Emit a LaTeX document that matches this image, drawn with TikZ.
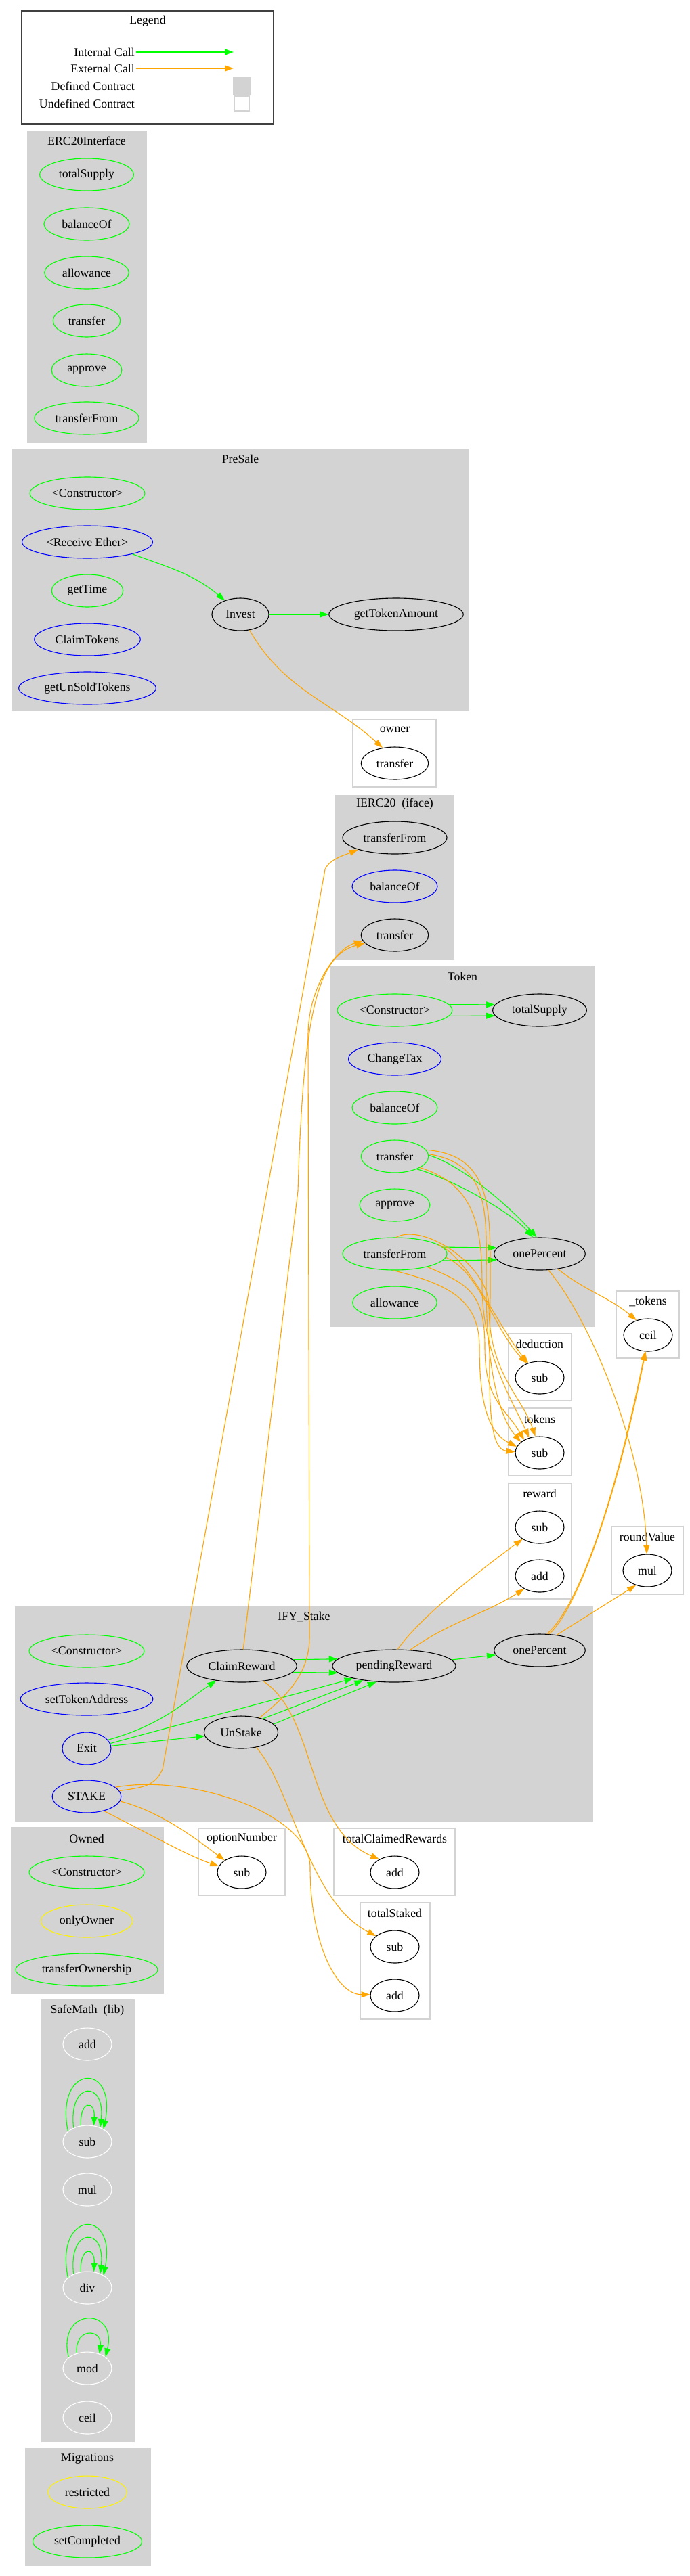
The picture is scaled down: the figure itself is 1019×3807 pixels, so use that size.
\documentclass[tikz,border=0pt]{standalone}
\usepackage{fontspec}
\setmainfont{Liberation Serif}
\usetikzlibrary{shapes.geometric, arrows.meta, positioning}
\definecolor{gvgray}{HTML}{D3D3D3}
\definecolor{gvorange}{HTML}{FFA500}
\definecolor{gvframe}{HTML}{404040}

\begin{document}
\begin{tikzpicture}[
    x=1pt, y=-1pt,
    every node/.style={font=\fontsize{17.8}{20}\selectfont},
    fn/.style={
      ellipse,
      draw,
      line width=1.1pt,
      inner xsep=8pt,
      inner ysep=0pt,
      minimum width=72pt,
      minimum height=48pt
    },
    fngreen/.style={fn, draw=green},
    fnblue/.style={fn, draw=blue},
    fnyellow/.style={fn, draw=yellow},
    fnwhite/.style={fn, draw=white},
    ctitle/.style={inner sep=0pt},
    legtext/.style={anchor=east, inner sep=2pt},
    defbox/.style={fill=gvgray, draw=gvgray, line width=1pt},
    undefbox/.style={draw=gvgray, line width=1.3pt},
    icall/.style={draw=green, line width=1.1pt, -{Triangle[length=13pt,width=9pt]}},
    ecall/.style={draw=gvorange, line width=1.1pt, -{Triangle[length=13pt,width=9pt]}}
  ]
    \useasboundingbox (0,0) rectangle (1019,3807);

    % legend
    \draw[draw=gvframe, line width=1.5pt] (32,16) rectangle (404,183);
    \node[ctitle] (legtitle) at (218,31) {Legend};
    \node[legtext] (legint) at (201,77) {Internal Call};
    \node[legtext] (legext) at (201,101) {External Call};
    \node[legtext] (legdeftext) at (201,127) {Defined Contract};
    \node[legtext] (legundeftext) at (201,153) {Undefined Contract};
    \coordinate (legintend) at (345,77);
    \coordinate (legextend) at (345,101);
    \draw[icall, line width=2pt] (legint.east) -- (legintend);
    \draw[ecall, line width=1.6pt] (legext.east) -- (legextend);
    \node[defbox, minimum width=26pt, minimum height=25pt, inner sep=0pt] (legdef) at (357,127) {};
    \node[undefbox, minimum width=22pt, minimum height=22pt, inner sep=0pt] (legundef) at (357,153) {};

    % clusters
    \draw[defbox] (40,193) rectangle (216,653);
    \draw[defbox] (17,663) rectangle (692,1050);
    \draw[undefbox] (521,1063) rectangle (644,1163);
    \draw[defbox] (495,1175) rectangle (670,1418);
    \draw[defbox] (488,1427) rectangle (878,1960);
    \draw[undefbox] (751,1971) rectangle (844,2070);
    \draw[undefbox] (910,1908) rectangle (1003,2007);
    \draw[undefbox] (751,2081) rectangle (844,2181);
    \draw[undefbox] (751,2192) rectangle (844,2363);
    \draw[undefbox] (903,2256) rectangle (1009,2356);
    \draw[defbox] (22,2374) rectangle (875,2691);
    \draw[defbox] (16,2700) rectangle (241,2946);
    \draw[undefbox] (293,2702) rectangle (421,2801);
    \draw[undefbox] (493,2702) rectangle (672,2801);
    \draw[undefbox] (532,2812) rectangle (635,2984);
    \draw[defbox] (61,2955) rectangle (198,3608);
    \draw[defbox] (37,3618) rectangle (222,3791);

    \node[ctitle] (erctitle) at (128,208) {ERC20Interface};
    \node[ctitle] (pretitle) at (355,678) {PreSale};
    \node[ctitle] (ownertitle) at (583,1078) {owner};
    \node[ctitle] (ierctitle) at (583,1188) {IERC20\ \ (iface)};
    \node[ctitle] (toktitle) at (683,1443) {Token};
    \node[ctitle] (dedtitle) at (797,1986) {deduction};
    \node[ctitle] (utokentitle) at (957,1923) {\_tokens};
    \node[ctitle] (tokenstitle) at (797,2097) {tokens};
    \node[ctitle] (rewardtitle) at (797,2207) {reward};
    \node[ctitle] (roundtitle) at (956,2271) {roundValue};
    \node[ctitle] (staketitle) at (449,2389) {IFY\_Stake};
    \node[ctitle] (ownedtitle) at (128,2717) {Owned};
    \node[ctitle] (opttitle) at (357,2717) {optionNumber};
    \node[ctitle] (tcrtitle) at (583,2717) {totalClaimedRewards};
    \node[ctitle] (tsttitle) at (583,2827) {totalStaked};
    \node[ctitle] (mathtitle) at (129,2971) {SafeMath\ \ (lib)};
    \node[ctitle] (migtitle) at (129,3633) {Migrations};

    % functions
    \node[fngreen] (e_tsup) at (128,258) {totalSupply};
    \node[fngreen] (e_bal) at (128,331) {balanceOf};
    \node[fngreen] (e_allow) at (128,403) {allowance};
    \node[fngreen] (e_tr) at (128,474) {transfer};
    \node[fngreen] (e_appr) at (128,547) {approve};
    \node[fngreen] (e_tf) at (128,618) {transferFrom};

    \node[fngreen] (p_con) at (129,729) {<Constructor>};
    \node[fnblue] (p_recv) at (129,801) {<Receive Ether>};
    \node[fngreen] (p_time) at (129,873) {getTime};
    \node[fnblue] (p_claim) at (129,945) {ClaimTokens};
    \node[fnblue] (p_unsold) at (129,1017) {getUnSoldTokens};
    \node[fn] (p_invest) at (355,908) {Invest};
    \node[fn] (p_gta) at (585,908) {getTokenAmount};

    \node[fn] (o_tr) at (583,1128) {transfer};

    \node[fn] (i_tf) at (583,1238) {transferFrom};
    \node[fnblue] (i_bal) at (583,1310) {balanceOf};
    \node[fn] (i_tr) at (583,1382) {transfer};

    \node[fngreen] (t_con) at (583,1493) {<Constructor>};
    \node[fn] (t_tsup) at (797,1493) {totalSupply};
    \node[fnblue] (t_chg) at (583,1565) {ChangeTax};
    \node[fngreen] (t_bal) at (583,1637) {balanceOf};
    \node[fngreen] (t_tr) at (583,1709) {transfer};
    \node[fngreen] (t_appr) at (583,1781) {approve};
    \node[fngreen] (t_tf) at (583,1853) {transferFrom};
    \node[fn] (t_onep) at (797,1853) {onePercent};
    \node[fngreen] (t_allow) at (583,1925) {allowance};

    \node[fn] (ded_sub) at (797,2036) {sub};
    \node[fn] (tok_ceil) at (957,1973) {ceil};
    \node[fn] (tks_sub) at (797,2147) {sub};
    \node[fn] (rw_sub) at (797,2257) {sub};
    \node[fn] (rw_add) at (797,2329) {add};
    \node[fn] (rv_mul) at (956,2321) {mul};

    \node[fngreen] (s_con) at (128,2440) {<Constructor>};
    \node[fnblue] (s_set) at (128,2511) {setTokenAddress};
    \node[fnblue] (s_exit) at (128,2584) {Exit};
    \node[fnblue] (s_stake) at (128,2655) {STAKE};
    \node[fn] (s_claim) at (357,2462) {ClaimReward};
    \node[fn] (s_unst) at (356,2560) {UnStake};
    \node[fn] (s_pend) at (582,2462) {pendingReward};
    \node[fn] (s_onep) at (797,2439) {onePercent};

    \node[fngreen] (w_con) at (128,2767) {<Constructor>};
    \node[fnyellow] (w_only) at (128,2839) {onlyOwner};
    \node[fngreen] (w_tfo) at (128,2911) {transferOwnership};

    \node[fn] (opt_sub) at (357,2767) {sub};
    \node[fn] (tcr_add) at (583,2767) {add};
    \node[fn] (tst_sub) at (583,2877) {sub};
    \node[fn] (tst_add) at (583,2949) {add};

    \node[fnwhite] (m_add) at (129,3021) {add};
    \node[fnwhite] (m_sub) at (129,3165) {sub};
    \node[fnwhite] (m_mul) at (129,3236) {mul};
    \node[fnwhite] (m_div) at (129,3381) {div};
    \node[fnwhite] (m_mod) at (129,3500) {mod};
    \node[fnwhite] (m_ceil) at (129,3573) {ceil};

    \node[fnyellow] (g_rest) at (129,3683) {restricted};
    \node[fngreen] (g_set) at (129,3756) {setCompleted};

    % PreSale calls
    \draw[icall] (p_recv.-15) to[out=-20, in=140] (p_invest.138);
    \draw[icall] (p_invest) -- (p_gta);
    \draw[ecall] (p_invest.-60) to[out=-60, in=138] (o_tr.128);

    % Token calls
    \draw[icall] (t_con.6) -- (t_tsup.173);
    \draw[icall] (t_con.-6) -- (t_tsup.-173);
    \draw[icall] (t_tr.2) .. controls +(50,15) and +(-40,-45) .. (t_onep.100);
    \draw[icall] (t_tr.-30) .. controls +(45,12) and +(-35,-40) .. (t_onep.112);
    \draw[icall] (t_tf.8) -- (t_onep.172);
    \draw[icall] (t_tf.-8) -- (t_onep.-172);
    \draw[ecall] (t_tr.12) .. controls +(100,8) and +(0,-110) .. (724,1900) .. controls +(0,130) and +(-45,-5) .. (tks_sub.178);
    \draw[ecall] (t_tr.4) .. controls +(95,15) and +(0,-100) .. (718,1900) .. controls +(0,110) and +(-35,-40) .. (tks_sub.150);
    \draw[ecall] (t_tr.-24) .. controls +(80,25) and +(0,-90) .. (712,1900) .. controls +(0,100) and +(-25,-55) .. (tks_sub.125);
    \draw[ecall] (t_tf.85) .. controls +(40,-22) and +(0,-60) .. (722,1930) .. controls +(0,100) and +(-20,-60) .. (tks_sub.105);
    \draw[ecall] (t_tf.12) .. controls +(45,20) and +(-45,-55) .. (ded_sub.128);
    \draw[ecall] (t_tf.-4) .. controls +(50,22) and +(-48,-50) .. (ded_sub.132);
    \draw[ecall] (t_tf.-22) .. controls +(60,25) and +(0,-80) .. (716,1990) .. controls +(0,80) and +(-30,-50) .. (tks_sub.140);
    \draw[ecall] (t_tf.-95) .. controls +(80,20) and +(0,-70) .. (708,1990) .. controls +(0,90) and +(-40,-20) .. (tks_sub.165);
    \draw[ecall] (t_onep.-40) to[out=-38, in=140] (tok_ceil.128);
    \draw[ecall] (t_onep.-62) .. controls +(60,70) and +(-5,-160) .. (rv_mul.92);

    % IFY_Stake calls
    \draw[icall] (s_exit.22) .. controls +(80,-22) and +(-45,30) .. (s_claim.-150);
    \draw[icall] (s_exit.12) .. controls +(90,-25) and +(-110,30) .. (s_pend.-163);
    \draw[icall] (s_exit) -- (s_unst);
    \draw[icall] (s_claim.7) -- (s_pend.173);
    \draw[icall] (s_claim.-7) -- (s_pend.-173);
    \draw[icall] (s_unst.32) -- (s_pend.-155);
    \draw[icall] (s_unst.14) -- (s_pend.-138);
    \draw[icall] (s_pend) -- (s_onep);
    \draw[ecall] (s_pend.78) .. controls +(35,-50) and +(-55,40) .. (rw_sub.-145);
    \draw[ecall] (s_pend.45) to[out=35, in=-148] (rw_add.-140);
    \draw[ecall] (s_onep.42) -- (rv_mul.-128);
    \draw[ecall] (s_onep.60) .. controls +(35,-30) and +(-50,250) .. (tok_ceil.-98);
    \draw[ecall] (s_onep.66) .. controls +(40,-35) and +(-52,255) .. (tok_ceil.-100);
    \draw[ecall] (s_claim.85) -- (440,1760) .. controls (448,1500) and (468,1412) .. (i_tr.195);
    \draw[ecall] (s_unst.38) .. controls +(30,-25) and +(0,60) .. (457,2420) -- (455,1530) .. controls +(0,-70) and +(-40,12) .. (i_tr.190);
    \draw[ecall] (s_stake.10) .. controls +(35,-5) and +(-12,25) .. (240,2615) -- (480,1285) .. controls +(6,-15) and +(-20,8) .. (i_tf.198);
    \draw[ecall] (s_claim.-35) .. controls (470,2540) and (450,2700) .. (tcr_add.140);
    \draw[ecall] (s_unst.-45) .. controls (430,2640) and (455,2810) .. (tst_sub.150);
    \draw[ecall] (s_stake.18) .. controls +(110,-20) and +(0,-80) .. (458,2760) .. controls +(0,110) and +(-50,0) .. (tst_add.178);
    \draw[ecall] (s_stake.-8) .. controls +(60,15) and +(-40,-30) .. (opt_sub.145);
    \draw[ecall] (s_stake.-40) .. controls +(60,30) and +(-45,-15) .. (opt_sub.165);

    % SafeMath calls
    \draw[icall] (m_sub.112) .. controls +(-2,-38) and +(2,-38) .. (m_sub.68);
    \draw[icall] (m_sub.135) .. controls +(-8,-70) and +(8,-70) .. (m_sub.48);
    \draw[icall] (m_sub.152) .. controls +(-20,-100) and +(20,-100) .. (m_sub.38);
    \draw[icall] (m_div.112) .. controls +(-2,-38) and +(2,-38) .. (m_div.68);
    \draw[icall] (m_div.135) .. controls +(-8,-70) and +(8,-70) .. (m_div.48);
    \draw[icall] (m_div.152) .. controls +(-20,-100) and +(20,-100) .. (m_div.38);
    \draw[icall] (m_mod.125) .. controls +(-4,-38) and +(4,-38) .. (m_mod.50);
    \draw[icall] (m_mod.150) .. controls +(-18,-75) and +(18,-75) .. (m_mod.32);
  \end{tikzpicture}
\end{document}
